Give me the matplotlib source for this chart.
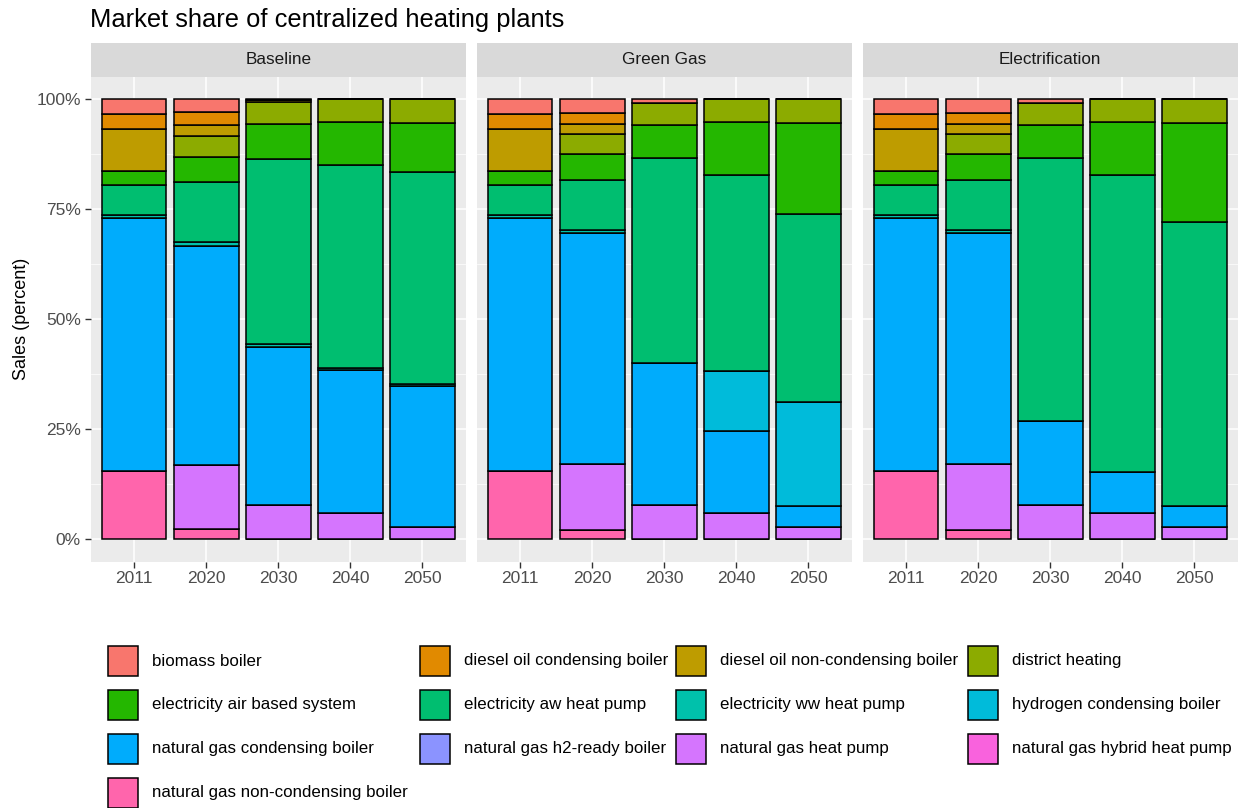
"""Market share of centralized heating plants, faceted stacked bars."""

import matplotlib.pyplot as plt
from matplotlib.patches import Rectangle

plt.rcParams['font.family'] = ['Liberation Sans', 'DejaVu Sans']

###################################################################################################
###################################################################################################

years = ['2011', '2020', '2030', '2040', '2050']
scenarios = ['Baseline', 'Green Gas', 'Electrification']

techs = ['biomass boiler', 'diesel oil condensing boiler', 'diesel oil non-condensing boiler',
         'district heating', 'electricity air based system', 'electricity aw heat pump',
         'electricity ww heat pump', 'hydrogen condensing boiler', 'natural gas condensing boiler',
         'natural gas h2-ready boiler', 'natural gas heat pump', 'natural gas hybrid heat pump',
         'natural gas non-condensing boiler']

colors = ['#F8766D', '#E18A00', '#BE9C00', '#8CAB00', '#24B700', '#00BE70', '#00C1AB',
          '#00BBDA', '#00ACFC', '#8B93FF', '#D575FE', '#F962DD', '#FF65AC']

# percent shares, rows follow techs, columns follow years
baseline = [
    [3.4, 2.9, 0.3, 0.0, 0.0],
    [3.4, 3.1, 0.0, 0.0, 0.0],
    [9.5, 2.4, 0.3, 0.0, 0.0],
    [0.0, 4.7, 5.1, 5.2, 5.4],
    [3.3, 5.7, 8.0, 9.8, 11.1],
    [6.8, 13.6, 41.9, 46.1, 48.1],
    [0.7, 0.9, 0.6, 0.4, 0.5],
    [0.0, 0.0, 0.0, 0.0, 0.0],
    [57.3, 49.7, 35.9, 32.4, 32.1],
    [0.0, 0.0, 0.0, 0.0, 0.0],
    [0.0, 14.6, 7.9, 6.1, 2.8],
    [0.0, 0.0, 0.0, 0.0, 0.0],
    [15.6, 2.4, 0.0, 0.0, 0.0],
]

green_gas = [
    [3.4, 3.2, 1.0, 0.0, 0.0],
    [3.4, 2.5, 0.0, 0.0, 0.0],
    [9.5, 2.2, 0.0, 0.0, 0.0],
    [0.0, 4.6, 5.0, 5.2, 5.4],
    [3.3, 5.9, 7.5, 12.0, 20.7],
    [6.8, 11.4, 46.4, 44.5, 42.8],
    [0.7, 0.7, 0.0, 0.0, 0.0],
    [0.0, 0.0, 0.0, 13.7, 23.5],
    [57.3, 52.4, 32.2, 18.5, 4.8],
    [0.0, 0.0, 0.0, 0.0, 0.0],
    [0.0, 15.0, 7.9, 6.1, 2.8],
    [0.0, 0.0, 0.0, 0.0, 0.0],
    [15.6, 2.1, 0.0, 0.0, 0.0],
]

electrification = [
    [3.4, 3.2, 1.0, 0.0, 0.0],
    [3.4, 2.5, 0.0, 0.0, 0.0],
    [9.5, 2.2, 0.0, 0.0, 0.0],
    [0.0, 4.6, 5.0, 5.2, 5.4],
    [3.3, 5.9, 7.5, 12.0, 22.5],
    [6.8, 11.4, 59.6, 67.4, 64.5],
    [0.7, 0.7, 0.0, 0.0, 0.0],
    [0.0, 0.0, 0.0, 0.0, 0.0],
    [57.3, 52.4, 19.0, 9.3, 4.8],
    [0.0, 0.0, 0.0, 0.0, 0.0],
    [0.0, 15.0, 7.9, 6.1, 2.8],
    [0.0, 0.0, 0.0, 0.0, 0.0],
    [15.6, 2.1, 0.0, 0.0, 0.0],
]

y_ticks = [0, 25, 50, 75, 100]
y_ticklabels = ['0%', '25%', '50%', '75%', '100%']


def main():

    W, H = 1238, 808
    fig = plt.figure(figsize=(W / 100, H / 100), dpi=100)

    panel_left = [90.7, 476.7, 862.7]
    panel_w = 375
    panel_top, panel_bot = 77, 561.5
    strip_top = 43

    data = [baseline, green_gas, electrification]
    x = list(range(len(years)))

    for i, (name, shares) in enumerate(zip(scenarios, data)):
        ax = fig.add_axes([panel_left[i] / W, 1 - panel_bot / H,
                           panel_w / W, (panel_bot - panel_top) / H])
        ax.set_facecolor('#EBEBEB')
        ax.set_axisbelow(True)

        # ggplot stacks the first level on top, so build from the last level up
        bottom = [0.0] * len(years)
        for k in reversed(range(len(techs))):
            vals = shares[k]
            ax.bar(x, vals, width=0.9, bottom=bottom, color=colors[k],
                   edgecolor='black', linewidth=1.1)
            bottom = [b + v for b, v in zip(bottom, vals)]

        ax.set_xlim(-0.6, len(years) - 0.4)
        ax.set_ylim(-5, 105)
        ax.set_xticks(x)
        ax.set_xticklabels(years)
        ax.set_yticks(y_ticks)
        ax.set_yticks([12.5, 37.5, 62.5, 87.5], minor=True)
        ax.grid(which='major', color='white', linewidth=1.1)
        ax.grid(which='minor', axis='y', color='white', linewidth=0.5)
        for s in ax.spines.values():
            s.set_visible(False)
        ax.tick_params(axis='both', which='major', length=4, width=1, color='#333333',
                       labelsize=12.5, labelcolor='#4D4D4D', pad=3)
        ax.tick_params(axis='both', which='minor', length=0)
        if i == 0:
            ax.set_yticklabels(y_ticklabels)
        else:
            ax.tick_params(axis='y', which='major', length=0, labelleft=False)

        sax = fig.add_axes([panel_left[i] / W, 1 - panel_top / H,
                            panel_w / W, (panel_top - strip_top) / H])
        sax.set_facecolor('#D9D9D9')
        sax.set_xticks([])
        sax.set_yticks([])
        for s in sax.spines.values():
            s.set_visible(False)
        sax.text(0.5, 0.5, name, ha='center', va='center', fontsize=12.3, color='#1A1A1A',
                 transform=sax.transAxes)

    fig.text(90 / W, 1 - 20 / H, 'Market share of centralized heating plants',
             ha='left', va='center', fontsize=18.4)
    fig.text(22 / W, 1 - 319 / H, 'Sales (percent)', ha='center', va='center',
             rotation=90, fontsize=13)

    # legend filled by row, 4 columns
    col_x = [108, 420, 676, 968]
    row_y = [661, 705, 749, 793]
    key = 30
    for k, (label, col) in enumerate(zip(techs, colors)):
        r, c = divmod(k, 4)
        kx, ky = col_x[c], row_y[r]
        fig.add_artist(Rectangle((kx / W, 1 - (ky + key / 2) / H), key / W, key / H,
                                 facecolor=col, edgecolor='black', linewidth=1.1,
                                 transform=fig.transFigure))
        fig.text((kx + 44) / W, 1 - ky / H, label, ha='left', va='center', fontsize=12.2)

    plt.savefig('out.png', dpi=100)


if __name__ == "__main__":
    main()
